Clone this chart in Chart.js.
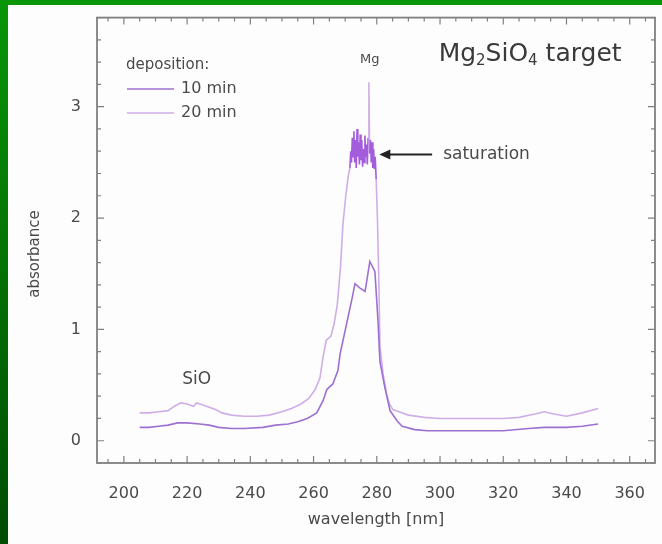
<!DOCTYPE html>
<html>
<head>
<meta charset="utf-8">
<script src="https://cdn.jsdelivr.net/npm/chart.js@4/dist/chart.umd.min.js"></script>
<style>
  html, body { margin: 0; padding: 0; width: 662px; height: 544px; overflow: hidden; }
  body { background: linear-gradient(#089608, #004c00); }
  #panel { position: absolute; left: 8px; top: 5px; width: 654px; height: 539px; background: #fdfdfd; }
  #wrap { position: absolute; left: 0; top: 0; width: 662px; height: 544px; }
</style>
</head>
<body>
<div id="panel"></div>
<div id="wrap"><canvas id="chart" width="662" height="544"></canvas></div>
<script>
// --- Data ---
const seriesLabels = ['10 min', '20 min'];
const seriesColors = ['#9c70d0', '#cfaee7'];
const saturationColor = '#a35cdc';
const saturationRange = [271.4, 279.9]; // nm, where the 20 min curve is clipped

// 10 min deposition
const wl10 = [205, 208, 211, 214, 217, 220, 224, 227, 230, 234, 238, 244, 248, 252, 255, 258, 261, 263,
  264.2, 266.1, 267.7, 268.4, 270.6, 272.2, 273.1, 274.7, 276.3, 277.8, 279.4, 280.4, 281, 282.6,
  284.2, 286.4, 288, 292, 296, 310, 320, 328, 333, 340, 345, 350];
const abs10 = [0.12, 0.12, 0.13, 0.14, 0.16, 0.16, 0.15, 0.14, 0.12, 0.11, 0.11, 0.12, 0.14, 0.15, 0.17, 0.2, 0.25, 0.36,
  0.46, 0.51, 0.63, 0.78, 1.07, 1.28, 1.41, 1.37, 1.34, 1.61, 1.52, 1.07, 0.71, 0.47,
  0.27, 0.18, 0.13, 0.1, 0.09, 0.09, 0.09, 0.11, 0.12, 0.12, 0.13, 0.15];

// 20 min deposition (noisy where the detector saturates)
const wl20 = [205, 208, 211, 214, 216, 218, 220, 222, 223, 225, 227, 229, 231, 234, 238, 242, 246, 250, 253, 256,
  258.5, 260.5, 262, 263, 264, 265.5, 266.5, 267.5, 268.5, 269.3, 270.2, 271,
  271.5, 271.75, 272, 272.25, 272.5, 272.75, 273, 273.25, 273.5, 273.75, 274, 274.25, 274.5, 274.75,
  275, 275.25, 275.5, 275.75, 276, 276.25, 276.5, 276.75, 277, 277.25, 277.5, 277.75, 278, 278.25,
  278.5, 278.75, 279, 279.25, 279.5, 279.8,
  280.2, 280.6, 281, 282, 283.1, 284, 285.1, 287, 290, 295, 300, 310, 320, 325, 330, 333, 336, 340, 345, 350];
const abs20 = [0.25, 0.25, 0.26, 0.27, 0.31, 0.34, 0.33, 0.31, 0.34, 0.32, 0.3, 0.28, 0.25, 0.23, 0.22, 0.22, 0.23, 0.26, 0.29, 0.33,
  0.38, 0.46, 0.56, 0.75, 0.9, 0.94, 1.05, 1.22, 1.55, 1.95, 2.2, 2.38,
  2.45, 2.6, 2.5, 2.72, 2.55, 2.78, 2.5, 2.7, 2.45, 2.8, 2.55, 2.68, 2.48, 2.75,
  2.52, 2.7, 2.46, 2.62, 2.5, 2.74, 2.55, 2.66, 2.48, 2.72, 3.22, 2.58, 2.7, 2.5,
  2.68, 2.45, 2.62, 2.44, 2.55, 2.35,
  2.0, 1.5, 0.85, 0.6, 0.42, 0.33, 0.28, 0.26, 0.23, 0.21, 0.2, 0.2, 0.2, 0.21, 0.24, 0.26, 0.24, 0.22, 0.25, 0.29];

// Axis ticks
const xTicks = [200, 220, 240, 260, 280, 300, 320, 340, 360];
const yTicks = [0, 1, 2, 3];

const FONT = 'DejaVu Sans';
const TEXT = '#4a4a4a';

function toPoints(xs, ys) {
  return xs.map((x, i) => ({ x: x, y: ys[i] }));
}

// Frame with inward ticks on all four sides
const framePlugin = {
  id: 'frame',
  afterDatasetsDraw(chart) {
    const { ctx, chartArea: a, scales: { x, y } } = chart;
    ctx.save();
    ctx.strokeStyle = '#808080';
    ctx.lineWidth = 1.8;
    ctx.strokeRect(a.left, a.top, a.right - a.left, a.bottom - a.top);
    ctx.lineWidth = 1.2;
    ctx.beginPath();
    for (let v = 195; v <= 365; v += 5) {
      const px = x.getPixelForValue(v);
      const len = v % 20 === 0 ? 7 : 4;
      ctx.moveTo(px, a.bottom); ctx.lineTo(px, a.bottom - len);
      ctx.moveTo(px, a.top); ctx.lineTo(px, a.top + len);
    }
    for (let i = -1; i <= 19; i++) {
      const v = i * 0.2;
      const py = y.getPixelForValue(v);
      const len = i % 5 === 0 ? 7 : 4;
      ctx.moveTo(a.left, py); ctx.lineTo(a.left + len, py);
      ctx.moveTo(a.right, py); ctx.lineTo(a.right - len, py);
    }
    ctx.stroke();
    ctx.restore();
  }
};

// Text with subscripts: parts = [[text, isSub], ...]
function drawRich(ctx, parts, x, y, size) {
  let total = 0;
  parts.forEach(p => {
    ctx.font = (p[1] ? size * 0.6 : size) + 'px "' + FONT + '"';
    total += ctx.measureText(p[0]).width;
  });
  let cx = x - total / 2;
  parts.forEach(p => {
    ctx.font = (p[1] ? size * 0.6 : size) + 'px "' + FONT + '"';
    ctx.fillText(p[0], cx, p[1] ? y + size * 0.3 : y);
    cx += ctx.measureText(p[0]).width;
  });
}

// Legend, labels and arrow
const notesPlugin = {
  id: 'notes',
  afterDraw(chart) {
    const { ctx, chartArea: a, scales: { x, y } } = chart;
    ctx.save();
    ctx.fillStyle = TEXT;
    ctx.textBaseline = 'middle';

    // legend
    ctx.textAlign = 'left';
    ctx.font = '15px "' + FONT + '"';
    ctx.fillText('deposition:', a.left + 29, 65);
    chart.data.datasets.forEach((ds, i) => {
      const ly = 89 + i * 24;
      ctx.strokeStyle = ds.borderColor;
      ctx.lineWidth = 1.6;
      ctx.beginPath();
      ctx.moveTo(a.left + 30, ly);
      ctx.lineTo(a.left + 77, ly);
      ctx.stroke();
      ctx.font = '16px "' + FONT + '"';
      ctx.fillText(ds.label, a.left + 84, ly);
    });

    // title
    ctx.fillStyle = '#3a3a3a';
    drawRich(ctx, [['Mg', false], ['2', true], ['SiO', false], ['4', true], [' target', false]],
      x.getPixelForValue(328.5), 54, 25);

    ctx.fillStyle = TEXT;
    ctx.textAlign = 'center';
    ctx.font = '13px "' + FONT + '"';
    ctx.fillText('Mg', x.getPixelForValue(277.8), y.getPixelForValue(3.42));
    ctx.font = '17px "' + FONT + '"';
    ctx.fillText('SiO', x.getPixelForValue(223), y.getPixelForValue(0.55));

    ctx.textAlign = 'left';
    ctx.font = '17px "' + FONT + '"';
    const sy = y.getPixelForValue(2.57);
    ctx.fillText('saturation', x.getPixelForValue(301), sy);

    // arrow
    const tip = x.getPixelForValue(280.8);
    const tail = x.getPixelForValue(297.5);
    ctx.strokeStyle = '#222';
    ctx.fillStyle = '#222';
    ctx.lineWidth = 2;
    ctx.beginPath();
    ctx.moveTo(tail, sy); ctx.lineTo(tip + 8, sy);
    ctx.stroke();
    ctx.beginPath();
    ctx.moveTo(tip, sy); ctx.lineTo(tip + 11, sy - 5); ctx.lineTo(tip + 11, sy + 5);
    ctx.closePath();
    ctx.fill();

    // y axis title
    ctx.fillStyle = TEXT;
    ctx.translate(35, 254);
    ctx.rotate(-Math.PI / 2);
    ctx.textAlign = 'center';
    ctx.font = '15px "' + FONT + '"';
    ctx.fillText('absorbance', 0, 0);
    ctx.restore();
  }
};

// saturated stretch drawn darker, but not the thin Mg spike above it
const inSaturation = c => c.p0.parsed.x >= saturationRange[0] && c.p1.parsed.x <= saturationRange[1]
  && Math.max(c.p0.parsed.y, c.p1.parsed.y) < 3;

const ctx = document.getElementById('chart').getContext('2d');
const spectrumChart = new Chart(ctx, {
  type: 'line',
  data: {
    datasets: [
      { label: seriesLabels[0], data: toPoints(wl10, abs10), borderColor: seriesColors[0] },
      {
        label: seriesLabels[1], data: toPoints(wl20, abs20), borderColor: seriesColors[1],
        segment: { borderColor: c => inSaturation(c) ? saturationColor : undefined }
      }
    ]
  },
  options: {
    responsive: false,
    animation: false,
    parsing: false,
    layout: { padding: { left: 0, right: 7, top: 15, bottom: 0 } },
    elements: {
      point: { radius: 0 },
      line: { borderWidth: 1.6, tension: 0, fill: false }
    },
    plugins: {
      legend: { display: false },
      tooltip: { enabled: false }
    },
    scales: {
      x: {
        type: 'linear',
        min: 191.5,
        max: 368,
        afterBuildTicks: s => { s.ticks = xTicks.map(v => ({ value: v })); },
        afterFit: s => { s.height = 81; },
        grid: { display: false },
        border: { display: false },
        ticks: { padding: 13, color: TEXT, maxRotation: 0, autoSkip: false, font: { family: FONT, size: 16 } },
        title: { display: true, text: 'wavelength [nm]', color: TEXT, font: { family: FONT, size: 16 }, padding: { top: 0, bottom: 15 } }
      },
      y: {
        min: -0.2,
        max: 3.8,
        afterBuildTicks: s => { s.ticks = yTicks.map(v => ({ value: v })); },
        afterFit: s => { s.width = 97; },
        grid: { display: false },
        border: { display: false },
        ticks: { padding: 8, color: TEXT, font: { family: FONT, size: 16 } }
      }
    }
  },
  plugins: [framePlugin, notesPlugin]
});
</script>
</body>
</html>
